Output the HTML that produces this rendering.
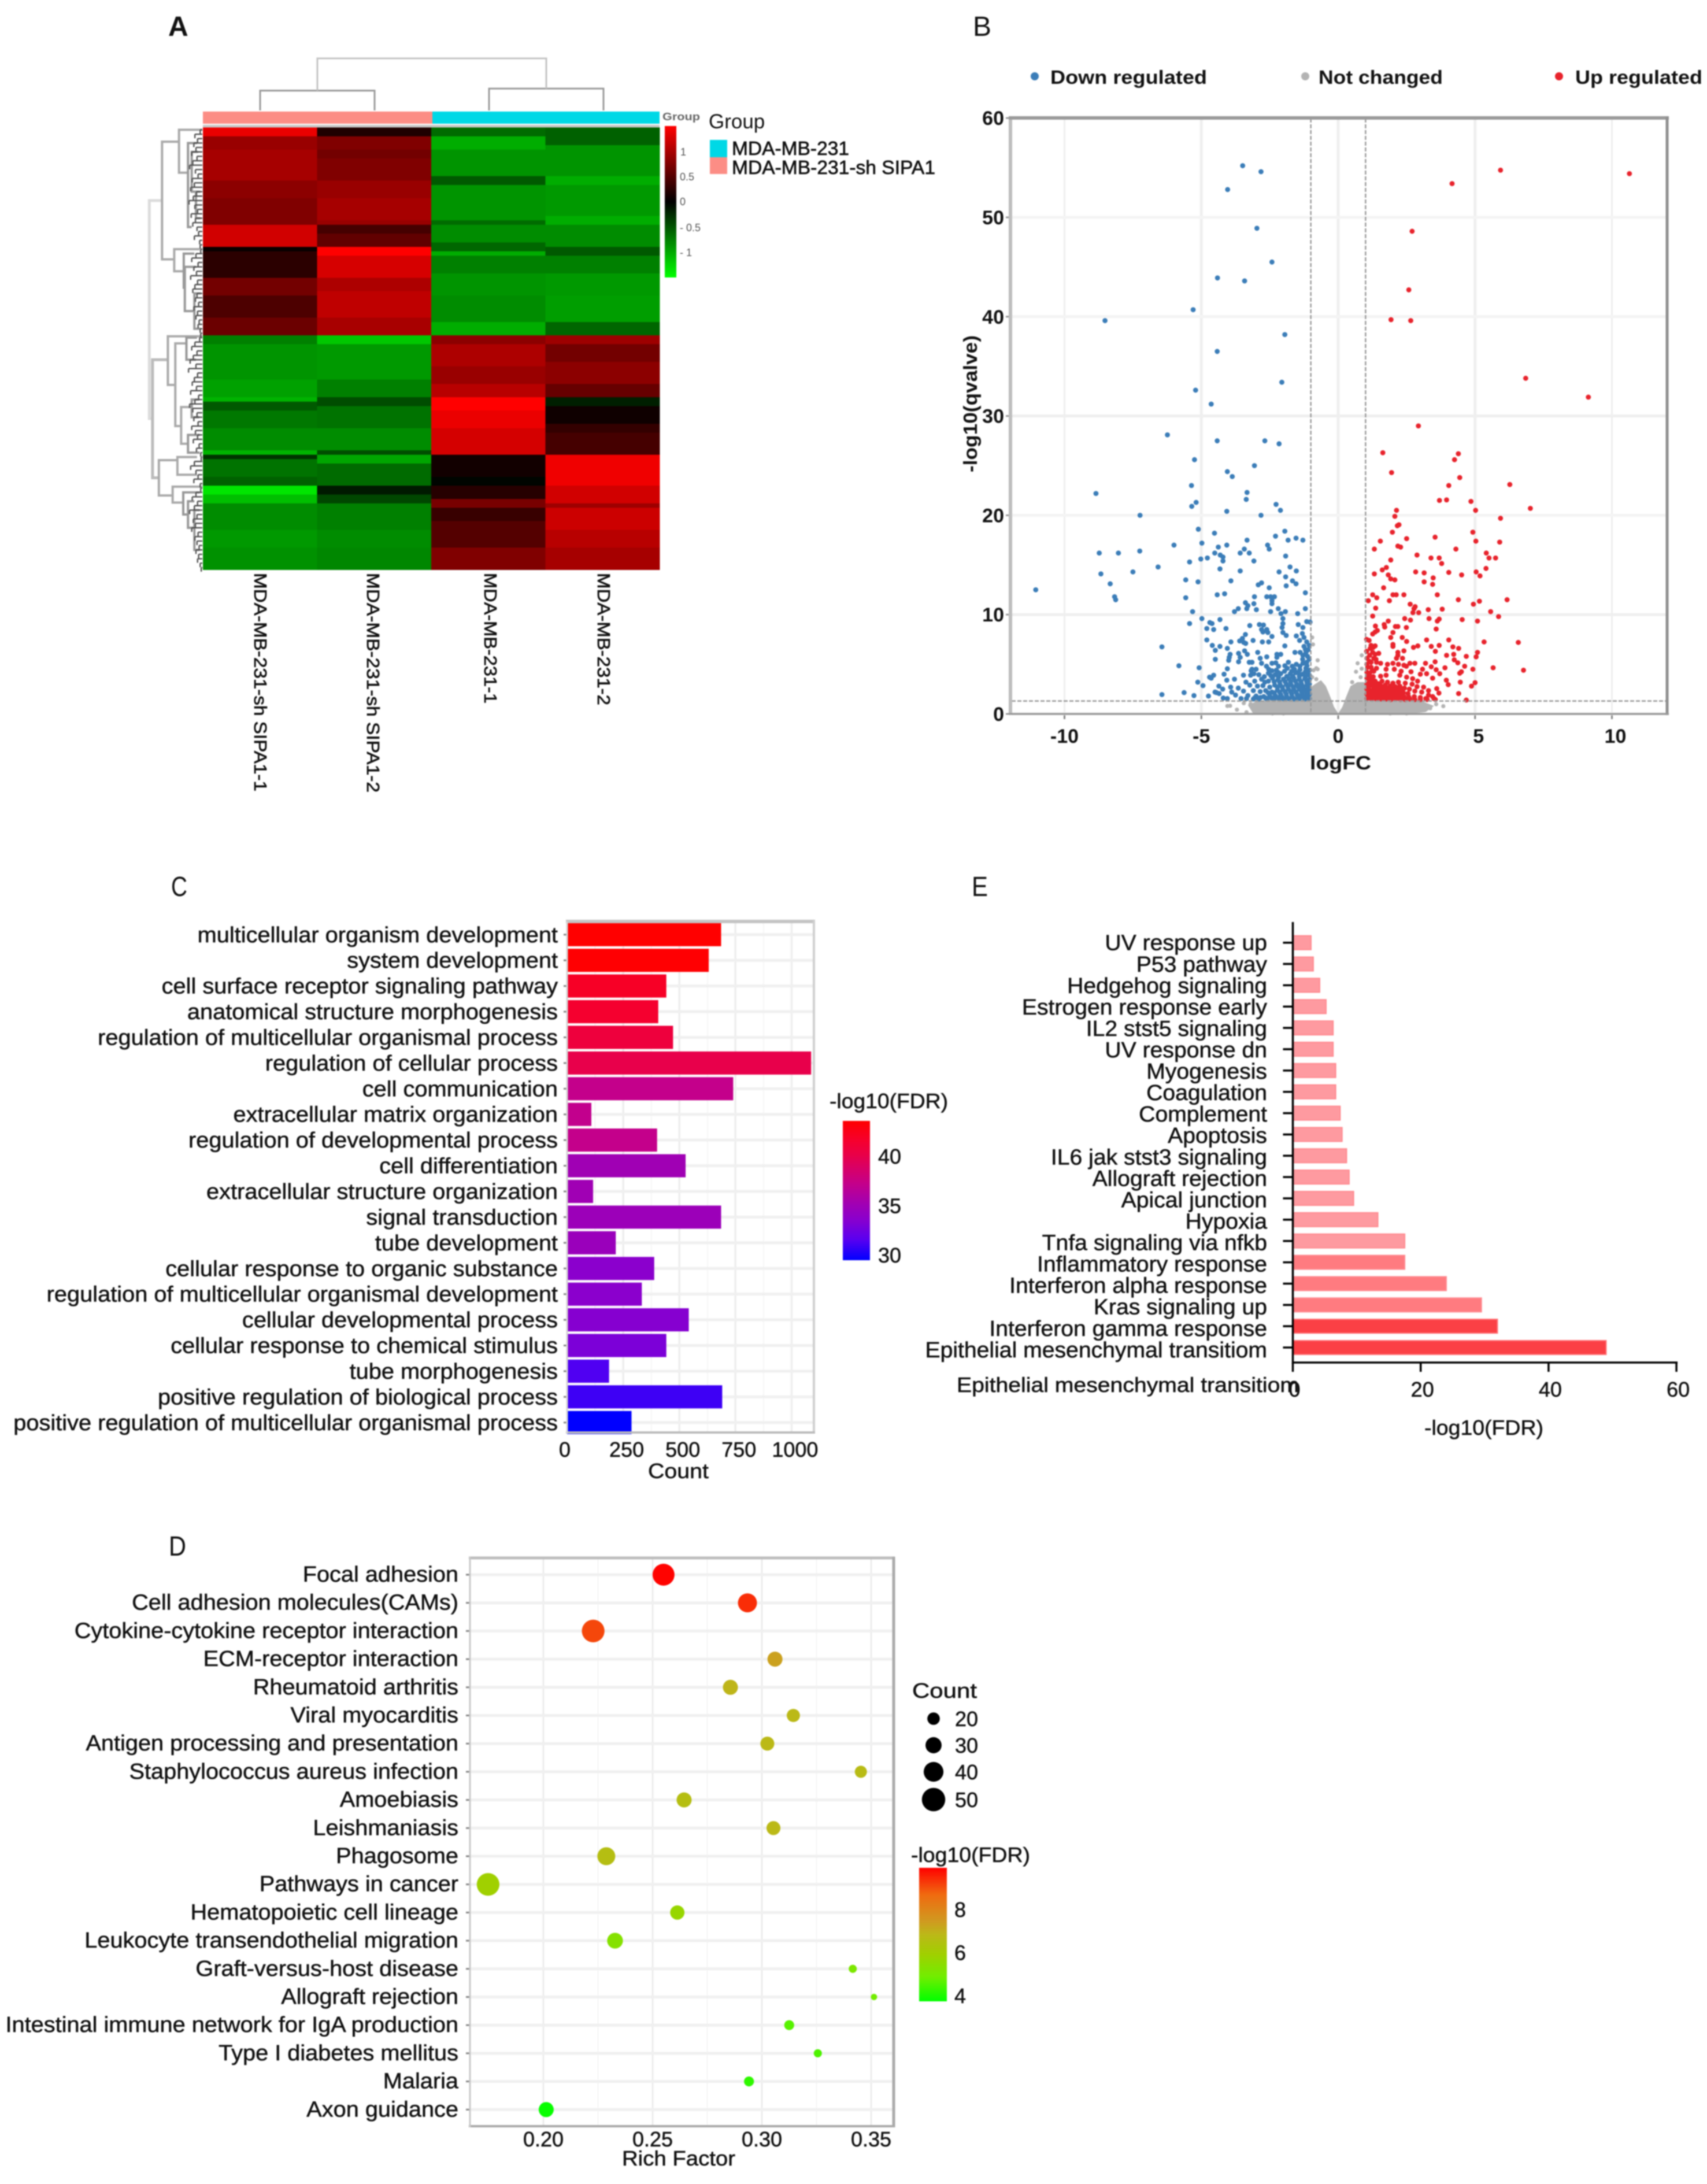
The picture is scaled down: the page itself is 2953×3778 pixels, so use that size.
<!DOCTYPE html>
<html lang="en">
<head>
<meta charset="utf-8">
<title>Composite figure A-E</title>
<style>
html,body{margin:0;padding:0;background:#fff;}
#figure{display:block;filter:blur(1.1px);font-family:"Liberation Sans",sans-serif;}
text{font-family:"Liberation Sans",sans-serif;fill:#111;}
#panelC text,#panelD text,#panelE text{stroke:#111;stroke-width:.55;}
.sample{stroke:#111;stroke-width:.7;}
</style>
</head>
<body>
<svg id="figure" xmlns="http://www.w3.org/2000/svg" width="2953" height="3778" viewBox="0 0 2953 3778">
<rect width="2953" height="3778" fill="#fff"/>
<defs>
<linearGradient id="heatBar" x1="0" y1="0" x2="0" y2="1"><stop offset="0" stop-color="#ff0000"/><stop offset="0.5" stop-color="#000"/><stop offset="1" stop-color="#00ff00"/></linearGradient>
<linearGradient id="goBar" x1="0" y1="1" x2="0" y2="0"></linearGradient>
<linearGradient id="keggBar" x1="0" y1="1" x2="0" y2="0"></linearGradient>
</defs>

<text x="291" y="62" font-size="48" font-weight="bold">A</text>
<text x="1683" y="62" font-size="48">B</text>
<text x="296" y="1550" font-size="48" textLength="28" lengthAdjust="spacingAndGlyphs">C</text>
<text x="292" y="2691" font-size="48" textLength="30" lengthAdjust="spacingAndGlyphs">D</text>
<text x="1681" y="1550" font-size="48" textLength="28" lengthAdjust="spacingAndGlyphs">E</text>

<g id="panelA">
<rect x="351" y="193" width="397" height="21" fill="#fc8d85"/>
<rect x="748" y="193" width="393" height="21" fill="#00d8e6"/>
<rect x="351" y="216" width="790" height="5" fill="#c8c8c8"/>
<text x="1146" y="208" font-size="18" font-weight="bold" fill="#666" style="fill:#666" textLength="65" lengthAdjust="spacingAndGlyphs">Group</text>
<rect x="1150" y="218" width="20" height="262" fill="url(#heatBar)"/>
<text x="1177" y="269" font-size="18" style="fill:#555">1</text>
<text x="1176" y="312" font-size="18" style="fill:#555">0.5</text>
<text x="1176" y="355" font-size="18" style="fill:#555">0</text>
<text x="1176" y="400" font-size="18" style="fill:#555">- 0.5</text>
<text x="1176" y="443" font-size="18" style="fill:#555">- 1</text>
<text x="1226" y="222" font-size="35">Group</text>
<rect x="1228" y="242" width="30" height="30" fill="#00d8e6"/>
<rect x="1228" y="272" width="30" height="29" fill="#fc8d85"/>
<text class="sample" x="1266" y="268" font-size="33" textLength="203" lengthAdjust="spacingAndGlyphs">MDA-MB-231</text>
<text class="sample" x="1266" y="301" font-size="33" textLength="352" lengthAdjust="spacingAndGlyphs">MDA-MB-231-sh SIPA1</text>
<text class="sample" transform="translate(440,991) rotate(90)" font-size="31" textLength="378" lengthAdjust="spacingAndGlyphs">MDA-MB-231-sh SIPA1-1</text>
<text class="sample" transform="translate(635,991) rotate(90)" font-size="31" textLength="380" lengthAdjust="spacingAndGlyphs">MDA-MB-231-sh SIPA1-2</text>
<text class="sample" transform="translate(838,991) rotate(90)" font-size="31" textLength="226" lengthAdjust="spacingAndGlyphs">MDA-MB-231-1</text>
<text class="sample" transform="translate(1034,991) rotate(90)" font-size="31" textLength="229" lengthAdjust="spacingAndGlyphs">MDA-MB-231-2</text>
</g>

<g id="panelB">
<circle cx="1790" cy="132" r="7" fill="#3b7db8"/>
<text x="1817" y="145" font-size="33" font-weight="bold" textLength="271" lengthAdjust="spacingAndGlyphs">Down regulated</text>
<circle cx="2258" cy="132" r="7" fill="#b3b3b3"/>
<text x="2281" y="145" font-size="33" font-weight="bold" textLength="215" lengthAdjust="spacingAndGlyphs">Not changed</text>
<circle cx="2697" cy="132" r="7" fill="#e8232c"/>
<text x="2725" y="145" font-size="33" font-weight="bold" textLength="220" lengthAdjust="spacingAndGlyphs">Up regulated</text>
<text x="2266" y="1331" font-size="33" font-weight="bold" textLength="106" lengthAdjust="spacingAndGlyphs">logFC</text>
<text transform="translate(1690,817) rotate(-90)" font-size="33" font-weight="bold" textLength="237" lengthAdjust="spacingAndGlyphs">-log10(qvalve)</text>
</g>

<g id="panelC">
<text x="1121" y="2557" font-size="36" textLength="105" lengthAdjust="spacingAndGlyphs">Count</text>
<text x="1435" y="1917" font-size="36" textLength="205" lengthAdjust="spacingAndGlyphs">-log10(FDR)</text>
<rect x="1458" y="1939" width="47" height="241" fill="url(#goBar)"/>
</g>

<g id="panelE">
<text x="1655" y="2408" font-size="36" textLength="592" lengthAdjust="spacingAndGlyphs">Epithelial mesenchymal transitiom</text>
<text x="2464" y="2482" font-size="36" textLength="206" lengthAdjust="spacingAndGlyphs">-log10(FDR)</text>
</g>

<g id="panelD">
<text x="1076" y="3746" font-size="36" textLength="196" lengthAdjust="spacingAndGlyphs">Rich Factor</text>
<text x="1578" y="2937" font-size="36" textLength="112" lengthAdjust="spacingAndGlyphs">Count</text>
<text x="1576" y="3221" font-size="36" textLength="206" lengthAdjust="spacingAndGlyphs">-log10(FDR)</text>
<rect x="1590" y="3231" width="48" height="231" fill="url(#keggBar)"/>
</g>
</svg>

<script>
/* ---------- Panel A data ---------- */
const heatSamples = ['sh1','sh2','wt1','wt2'];
const heatSh1 = [.92,.92,.6,.6,.6,.65,.65,.65,.65,.65,.65,.65,.55,.55,.55,.55,.5,.5,.5,.5,.5,.5,.82,.82,.82,.82,.82,.03,.17,.17,.17,.17,.17,.17,.45,.45,.45,.45,.3,.3,.3,.3,.3,.42,.42,.42,.42,-.5,-.5,-.58,-.58,-.58,-.58,-.58,-.58,-.58,-.58,-.63,-.63,-.63,-.63,-.7,-.35,-.35,-.47,-.47,-.47,-.47,-.55,-.55,-.55,-.55,-.55,-.7,-.2,-.45,-.45,-.45,-.45,-.38,-.38,-.9,-.9,-.75,-.75,-.55,-.55,-.55,-.55,-.55,-.55,-.6,-.6,-.6,-.6,-.57,-.57,-.57,-.57,-.57];
const heatSh2 = [.12,.12,.5,.5,.5,.45,.45,.5,.5,.5,.5,.5,.6,.6,.6,.6,.65,.65,.65,.65,.65,.6,.27,.27,.38,.38,.38,1,1,.84,.84,.84,.84,.84,.68,.68,.68,.75,.75,.75,.75,.75,.75,.66,.66,.66,.66,-.78,-.78,-.6,-.6,-.6,-.6,-.6,-.6,-.6,-.6,-.5,-.5,-.5,-.5,-.3,-.3,-.45,-.45,-.45,-.45,-.45,-.55,-.55,-.55,-.55,-.55,-.3,-.65,-.65,-.42,-.42,-.42,-.42,-.42,-.1,-.1,-.28,-.28,-.5,-.5,-.5,-.5,-.5,-.5,-.55,-.55,-.55,-.55,-.53,-.53,-.53,-.53,-.53];
const heatWt1 = [-.42,-.42,-.68,-.68,-.68,-.58,-.58,-.58,-.58,-.58,-.58,-.35,-.35,-.58,-.58,-.58,-.58,-.58,-.58,-.58,-.58,-.42,-.55,-.55,-.55,-.55,-.4,-.4,-.68,-.5,-.5,-.5,-.5,-.58,-.58,-.58,-.58,-.58,-.55,-.55,-.55,-.55,-.55,-.55,-.68,-.68,-.68,.55,.55,.68,.68,.68,.68,.68,.6,.6,.6,.6,.72,.72,.72,1,1,1,.92,.92,.92,.92,.83,.83,.83,.83,.83,.83,.07,.07,.07,.07,.07,-.02,-.02,.15,.15,.15,.47,.47,.22,.22,.22,.33,.33,.33,.33,.33,.33,.5,.5,.5,.5,.5];
const heatWt2 = [-.38,-.38,-.38,-.38,-.58,-.58,-.58,-.58,-.58,-.58,-.58,-.68,-.68,-.6,-.6,-.6,-.6,-.6,-.6,-.6,-.68,-.68,-.55,-.55,-.55,-.55,-.55,-.35,-.35,-.5,-.5,-.5,-.5,-.6,-.6,-.6,-.6,-.6,-.62,-.62,-.62,-.62,-.62,-.62,-.4,-.4,-.4,.62,.62,.45,.45,.45,.45,.55,.55,.55,.55,.55,.4,.4,.4,-.12,-.12,.06,.06,.06,.06,.2,.2,.27,.27,.27,.27,.27,.94,.94,.94,.94,.94,.94,.94,.82,.82,.82,.82,.62,.8,.8,.8,.8,.8,.72,.72,.72,.72,.65,.65,.65,.65,.65];
const columnMerges = [[.38,0,1],[.42,2,3],[1,.5,2.5]];
const rowMerges = [[100,16,65.3,76,94],[76,2.7,29.3,44,53],[44,0,9.7,0,27],[27,3,22,10,20],[53,27,32,5,35],[35,28,35.7,15,33],[33,31,41,12,15],[15,37,45,3,3],[94,52,78.7,65,82],[65,46.7,57.7,0,51],[51,48.3,67,30,40],[30,47,52,10,12],[40,62.7,71,20,27],[27,69,73,5,5],[20,61,65,6,6],[82,74.7,82.7,47,56],[56,80.7,84.3,0,36],[36,82,87,5,27],[27,84,90,15,15],[15,86,95,5,5],[47,74,78,10,10],[20,5,14,8,8],[12,14,20,4,4]];
const rowFringe = [4,14,9,16,12,20,10,18,24,13,8,19,15,22,11,17,25,14,9,21,13,18,10,7,15,5,4,3,12,20,8,16,11,22,9,14,18,10,13,7,16,9,12,6,8,4,3,5,14,20,10,17,23,12,26,9,15,19,11,22,7,14,24,18,10,16,8,20,13,9,17,6,11,3,2,15,22,12,8,16,4,3,12,19,9,15,24,10,17,13,20,8,14,10,6,12,7,9,4,2];

/* ---------- Panel B data ---------- */
const volcanoXTicks = [-10,-5,0,5,10];
const volcanoYTicks = [0,10,20,30,40,50,60];
const notChangedEnvelopeFC = [-3.1,-3.3,-3,-2.2,-1.4,-1.05,-.85,-.63,-.45,-.3,-.15,0,.15,.3,.45,.7,.95,1.2,2.4,3.1,3.5,3.2,2.6];
const notChangedEnvelopeQ = [0,.9,1.25,1.5,1.9,2.6,3,3.4,2.8,1.8,.7,.05,.7,1.8,2.8,3.2,3.2,1.6,1.4,1.25,.8,.2,0];
const notChangedOutliers = [[-.95,7.7],[-.92,7],[-.75,5.4],[-.8,4.6],[-.9,4.4],[-.75,4.5],[-.95,3.7],[-.8,3.5],[-4.05,.8],[-3.95,.82],[-3.7,.43],[-3.35,.17],[-3.45,1.08],[-3.2,1],[.86,5.9],[.71,5.1],[.65,4.25],[.86,4.55],[.51,3.2],[.82,3.7],[3.36,.57],[3.84,.78],[3.58,.98],[-2.4,.05],[-2,.05],[1.9,.05],[2.5,.05]];
const downRegulated = [[-3.49,55.2],[-2.82,54.6],[-4.04,52.8],[-2.97,48.9],[-2.42,45.5],[-4.41,43.9],[-3.42,43.6],[-5.3,40.7],[-8.52,39.6],[-1.95,38.2],[-4.42,36.5],[-2.06,33.4],[-5.21,32.6],[-4.64,31.2],
[-6.24,28.1],[-4.42,27.5],[-2.68,27.5],[-2.16,27.2],[-5.25,25.6],[-3.06,25],[-4.05,24.4],[-3.87,23.9],[-5.36,23],[-3.33,22.3],[-3.36,21.6],[-8.85,22.2],[-5.19,21.3],[-5.35,20.9],[-2.27,21.1],[-2.11,20.5],[-4.07,20.4],[-2.82,20],[-7.24,20],[-5.11,18.6],[-4.52,18.2],[-1.95,18.4],[-2.29,17.9],[-3.33,17.5],[-1.83,17.5],[-1.54,17.7],[-1.29,17.5],[-4.98,17.2],[-6,17],[-4.38,16.8],[-4.07,17],[-2.58,17],[-2.52,16.6],[-3.43,16.6],[-3.58,16.2],[-3.25,16.2],[-4.51,16.2],[-4.31,16],[-8.73,16.2],[-8.03,16.2],[-7.25,16.4],[-4.21,15.8],[-4.78,15.7],[-5.02,15.6],[-4.21,15.4],[-5.43,15.3],[-3.08,15.4],[-1.92,15.9],[-1.76,14.8],[-1.53,14.4],[-6.58,14.8],[-4.32,14.6],[-3.58,14.4],[-7.5,14.3],[-2.16,14.3],[-8.67,14.1],[-1.92,13.8],[-1.67,13.4],[-1.54,13.1],[-1.9,12.9],[-5.57,13.5],[-5.12,13.3],[-3.92,13.4],[-8.33,13.1],[-2.8,13.2],[-2.92,13],[-11.05,12.5],[-2.52,12.7],[-1.2,12.2],[-4.15,12.1],[-4.42,12],[-5.57,11.7],[-8.17,11.8],[-8.13,11.5],[-3.06,11.8],[-2.61,11.8],[-2.47,11.8],[-2.33,11.8],[-2.42,11.4],[-2.42,11.1],[-3.39,11.2],[-3.08,11.1],[-3.3,10.9],[-3.34,10.6],[-3.65,10.6],[-3.79,10.3],[-2.99,10.5],[-2.19,10.6],[-2.47,10.3],[-1.93,10.3],[-2.09,10.1],[-1.2,10.6],[-1.48,10.1],[-5.32,10.3],[-4.98,9.6],[-4.32,9.5],[-5.43,9.1],[-4.69,9.2],[-4.61,9.1],[-2.02,9.6],[-1.15,9.3],[-1.03,9.25],[-3.23,8.9],[-2.88,9],[-2.73,8.95],[-2.02,9.1],[-1.46,9],[-1.29,8.7],[-4.8,8.6],[-4.55,8.5],[-4.1,8.6],[-2.8,8.5],[-2.61,8.5],[-2.05,8.7],[-2.57,8.2],[-2.75,8.25],[-1.31,8.1],[-2.02,8.2],[-3.39,8],[-1.9,7.9],[-2.42,7.8],[-1.53,7.85],[-1.25,7.7],[-3.5,7.6],[-4.8,7.45],[-3.11,7.4],[-3.6,7.35],[-3.45,7.2],[-3.38,7.1],[-3.92,7.25],[-2.77,7.25],[-2.54,7.25],[-1.41,7.4],[-1.15,7.25],[-4.6,6.9],[-4.32,6.8],[-6.44,6.75],[-4.05,6.6],[-1.95,6.85],[-1.06,6.9],[-4.49,6.4],[-3.42,6.35],[-2.94,6.2],[-3.64,6.1],[-3.32,6],[-3.95,6],[-1.58,6.2],[-1.39,6.2],[-2.24,6],[-2.1,6],[-1.29,5.9],[-3.98,5.7],[-3.58,5.7],[-2.61,5.75],[-2.85,5.6],[-2.24,5.7],[-4.49,5.5],[-4,5.4],[-3.64,5.25],[-1.3,5.5],[-1.06,5.5],[-3.25,5.2],[-3.15,5.2],[-2.8,5.1],[-2.42,5.1],[-2.28,5.15],[-1.82,5.2],[-1.53,5],[-1.29,5.1],[-1.15,5.2],[-5.82,4.85],[-5.08,4.65],[-4.05,4.55],
[-3.15,4.5],[-3,4.5],[-2.54,4.5],[-2.26,4.4],[-1.86,4.6],[-1.6,4.5],[-1.4,4.45],[-1.18,4.6],[-1.05,4.4],[-3.18,4.35],[-3.08,4.05],[-4.55,3.9],[-4.17,4],[-3.46,3.9],[-4.64,3.6],[-4.7,3.7],[-4.07,3.4],[-3.79,3.5],[-3.2,3.9],[-2.9,3.95],[-2.55,4.1],[-2.3,3.95],[-2.1,4.05],[-1.75,4.05],[-1.55,4.15],[-1.3,4],[-1.1,3.95],[-5.13,3.2],[-3.37,3.2],[-3.23,2.9],[-3.05,3.3],[-2.8,3.5],[-2.55,3.3],[-2.4,3.6],[-2.2,3.45],[-2,3.5],[-1.8,3.55],[-1.62,3.6],[-1.42,3.5],[-1.22,3.55],[-1.05,3.45],[-4.94,2.85],[-4.36,2.8],[-3.93,2.7],[-3.65,2.6],[-2.95,2.8],[-2.75,2.85],[-2.5,2.7],[-2.32,2.9],[-2.12,2.95],[-1.9,3],[-1.72,2.95],[-1.52,3],[-1.34,3],[-1.14,2.95],[-4.22,2.5],[-3.46,2.3],[-3.1,2.35],[-2.85,2.25],[-2.65,2.35],[-2.42,2.2],[-2.22,2.4],[-2.02,2.45],[-1.82,2.5],[-1.62,2.45],[-1.42,2.5],[-1.24,2.45],[-1.06,2.5],[-5.63,2.15],[-4.45,2.15],[-3.89,2.2],[-6.44,1.95],[-5.27,1.85],[-4.74,1.8],[-4.5,2.2],[-4.35,2.05],[-3.75,1.9],[-3.3,1.85],[-3,1.8],[-2.72,1.75],[-2.5,1.8],[-2.3,1.85],[-2.1,1.95],[-1.9,2],[-1.7,2],[-1.5,1.95],[-1.32,2],[-1.14,1.95],[-4.2,1.6],[-4.05,1.55],[-3.55,1.55],[-3.35,1.55],[-3.1,1.5],[-2.9,1.5],[-2.6,1.5],[-2.35,1.5],[-2.15,1.5],[-1.98,1.5],[-1.8,1.55],[-1.6,1.5],[-1.42,1.55],[-1.22,1.5],[-1.05,1.55],[-1.05,3],[-1.05,3.9],[-1.05,2],[-1.2,6.5],[-1.25,6.8],
[-1.12,1.72],[-1.28,1.74],[-1.46,1.76],[-1.68,1.72],[-1.88,1.74],[-2.06,1.7],[-2.24,1.68],[-2.44,1.62],[-2.66,1.62],[-2.84,1.66],[-3.05,1.62],[-1.16,2.22],[-1.34,2.24],[-1.54,2.2],[-1.74,2.26],[-1.94,2.24],[-2.14,2.18],[-2.34,2.12],[-2.56,2.14],[-1.1,2.72],[-1.28,2.74],[-1.46,2.72],[-1.64,2.7],[-1.84,2.76],[-2.04,2.7],[-2.22,2.7],[-1.15,3.25],[-1.36,3.26],[-1.56,3.3],[-1.74,3.25],[-1.94,3.25],[-2.14,3.2],[-2.34,3.25],[-2.68,3.2],[-1.2,3.75],[-1.42,3.8],[-1.66,3.8],[-1.88,3.78],[-2.18,3.7],[-2.46,3.85],[-2.7,3.75],[-1.2,4.25],[-1.46,4.2],[-1.7,4.3],[-1.96,4.3],[-2.2,4.2],[-2.42,4.35],[-1.14,4.85],[-1.4,4.8],[-1.68,4.8],[-1.95,4.85],[-2.18,4.8],[-2.62,4.8],[-1.12,5.8],[-1.18,6.15],[-1.1,6.45]];
const upRegulated = [[4.16,53.4],[5.93,54.75],[10.64,54.4],[2.7,48.6],[2.58,42.7],[1.93,39.7],[2.65,39.6],[6.85,33.8],[9.14,31.9],[2.93,29],
[1.63,26.3],[4.39,26.2],[4.25,25.6],[1.95,24.3],[4.44,23.8],[4.04,23],[6.27,23.1],[3.7,21.5],[3.96,21.55],[4.85,21.4],[7.02,20.7],[5.02,20.5],[2.13,20.5],[2.07,19.9],[5.93,19.7],[2.22,19.05],[2.16,18.95],[1.98,18.3],[4.92,18.3],[2.5,17.65],[3.54,17.8],[5.03,17.4],[5.9,17.3],[1.54,17.4],[1.32,16.6],[2.18,16.9],[2.28,16.8],[4.3,16.6],[5.41,16.2],[2.88,16],[3.39,15.7],[3.69,15.7],[5.51,15.7],[5.75,15.7],[1.92,15.5],[3.78,15.15],[5.4,14.65],[1.76,14.75],[1.61,14.5],[2.83,14.3],[3.14,14.2],[4.04,14.25],[5.04,14.3],[1.32,14.1],[1.83,14],[4.51,14],[5.18,13.9],[1.92,13.6],[2.07,13.5],[3.47,13.7],[3.14,13.3],[3.45,13.05],[1.66,12.7],[1.26,12],[2,12],[2.12,12],[2.4,12],[3.62,12],[1.41,11.7],[4.39,11.5],[6.17,11.5],[1.87,11.4],[1.1,11.4],[5.16,11.35],[4.94,11.05],[2.63,11.05],[2.81,10.8],[2.77,10.6],[1.37,10.65],[3.29,10.5],[3.8,10.55],[5.57,10.3],[2.73,10.2],[2.94,10.2],[5.86,9.8],[1.26,9.85],[2.43,9.6],[2.64,9.45],[3.32,9.6],[3.69,9.55],[3.62,9.35],[4.53,9.5],[5.09,9.35],[1.83,9.35],[1.68,9],[1.36,8.85],[1.7,8.75],[2.09,8.8],[2.18,8.8],[2.49,8.7],[3.58,8.55],[1.43,8.4],[1.35,8.25],[1.26,8.05],[2,8.2],[1.92,7.7],[2.34,7.7],[1.04,7.5],[1.13,7.4],[2.5,7.3],[3.23,7.45],[4.04,7.45],[5.33,7.25],[6.58,7.2],[2,7],[2,6.8],[1.35,6.85],[2.75,6.7],[2.91,6.85],[3.4,6.8],[3.69,6.9],[4.19,6.75],[4.4,6.6],[1.17,6.6],[1.04,6.3],[3.55,6.3],[5.09,6.2],[2.4,6.35],[2.18,6.2],[1.48,6.1],[1.26,6.2],[1.35,6],[2.18,5.9],[2.35,5.6],[2.13,5.6],[3.96,5.9],[4.22,6],[4.68,5.8],[5.04,5.75],[4.24,5.45],[4.37,5.15],[3.54,5.25],[3.19,5.1],[2.8,5.1],[2.62,5.1],[2.49,4.8],[5.66,4.65],[6.77,4.4],[4.92,4.5],[4.62,4.8],[4.5,4.25],[4.44,4.1],[3.9,4.65],[3.4,4.75],[3.58,4.45],[3.71,4.05],[3.23,4.05],[3.08,4.5],[3,4],[2.66,4.25],[3.45,3.6],[3.95,3.4],[4.02,2.95],[4.46,3.2],[5,3.15],[4.87,2.8],[4.4,2.05],[4.68,1.4],
[1.05,5.6],[1.15,5.9],[1.05,5],[1.2,5.2],[1.4,5.2],[1.55,5.1],[1.2,4.7],[1.4,4.6],[1.8,5],[2,5.1],[2.2,5],[2.4,4.9],[1.75,4.5],[2.05,4.5],[2.3,4.3],[1.05,4.2],[1.15,4.1],[1.3,4.3],[1.55,3.8],[1.75,3.9],[2.25,3.9],[2.5,3.7],[2.72,3.55],[2.9,3.3],[1.05,3.6],[1.2,3.5],[1.35,3.3],[1.6,3.3],[1.8,3.2],[2,3.1],[2.2,3.2],[2.45,3.1],[2.7,3],[2.88,2.75],[3.12,2.7],[3.3,2.35],[3.6,2.55],[3.68,2.1],[1.05,3],[1.2,2.9],[1.38,2.8],[1.55,2.85],[1.72,2.9],[1.9,2.8],[2.08,2.75],[2.25,2.8],[2.42,2.6],[2.6,2.5],[1.05,2.5],[1.2,2.35],[1.35,2.4],[1.5,2.35],[1.68,2.4],[1.85,2.3],[2.02,2.35],[2.2,2.3],[2.38,2.15],[2.55,2.05],[2.8,2.3],[3.05,2.2],[3.3,1.9],[3.45,1.75],[1.05,2],[1.2,1.95],[1.35,1.9],[1.52,1.95],[1.7,1.9],[1.88,1.85],[2.05,1.9],[2.22,1.85],[2.4,1.75],[2.58,1.7],[2.78,1.75],[3,1.65],[3.2,1.55],[3.5,1.55],[1.05,1.55],[1.22,1.5],[1.4,1.5],[1.58,1.5],[1.75,1.5],[1.92,1.45],[2.1,1.5],[2.28,1.45],[2.45,1.45],[2.62,1.5],[2.8,1.45],[3,1.45],[3.25,1.45],[3.55,1.45],
[1.12,1.75],[1.3,1.72],[1.48,1.72],[1.66,1.7],[1.84,1.68],[2,1.66],[2.18,1.68],[2.36,1.6],[1.12,2.25],[1.28,2.15],[1.45,2.15],[1.62,2.15],[1.78,2.1],[1.95,2.1],[2.12,2.1],[2.3,2.05],[1.12,2.75],[1.3,2.65],[1.46,2.6],[1.62,2.62],[1.8,2.58],[1.98,2.55],[2.15,2.55],[2.32,2.55],[1.14,3.25],[1.28,3.15],[1.46,3.05],[1.12,3.85],[1.28,3.75],[1.08,4.7],[1.24,4.4],[1.14,5.3],[1.3,5.6],[1.38,5.5],[1.28,6.7],[1.2,6.9]];

/* ---------- Panel C data ---------- */
const goTerms = ['multicellular organism development','system development','cell surface receptor signaling pathway','anatomical structure morphogenesis','regulation of multicellular organismal process','regulation of cellular process','cell communication','extracellular matrix organization','regulation of developmental process','cell differentiation','extracellular structure organization','signal transduction','tube development','cellular response to organic substance','regulation of multicellular organismal development','cellular developmental process','cellular response to chemical stimulus','tube morphogenesis','positive regulation of biological process','positive regulation of multicellular organismal process'];
const goCounts = [686,631,442,406,472,1087,740,108,401,528,116,686,217,388,333,542,442,187,691,287];
const goFdr = [43.5,43.4,41.9,41.5,40.8,40.1,37.4,37.3,37.4,35.4,35.4,35.1,35,34,34,33.8,33.4,31.8,31.4,30];
const goXTicks = [0,250,500,750,1000];
const goFdrTicks = [30,35,40];

/* ---------- Panel E data ---------- */
const hallmarkTerms = ['UV response up','P53 pathway','Hedgehog signaling','Estrogen response early','IL2 stst5 signaling','UV response dn','Myogenesis','Coagulation','Complement','Apoptosis','IL6 jak stst3 signaling','Allograft rejection','Apical junction','Hypoxia','Tnfa signaling via nfkb','Inflammatory response','Interferon alpha response','Kras signaling up','Interferon gamma response','Epithelial mesenchymal transitiom'];
const hallmarkFdr = [2.85,3.2,4.2,5.2,6.3,6.3,6.7,6.7,7.4,7.7,8.4,8.8,9.5,13.3,17.5,17.5,24,29.5,32,49];
const hallmarkXTicks = [0,20,40,60];

/* ---------- Panel D data ---------- */
const keggTerms = ['Focal adhesion','Cell adhesion molecules(CAMs)','Cytokine-cytokine receptor interaction','ECM-receptor interaction','Rheumatoid arthritis','Viral myocarditis','Antigen processing and presentation','Staphylococcus aureus infection','Amoebiasis','Leishmaniasis','Phagosome','Pathways in cancer','Hematopoietic cell lineage','Leukocyte transendothelial migration','Graft-versus-host disease','Allograft rejection','Intestinal immune network for IgA production','Type I diabetes mellitus','Malaria','Axon guidance'];
const keggRichFactor = [.255,.2934,.2228,.306,.2856,.3144,.3025,.3453,.2644,.3053,.2288,.1747,.2613,.2328,.3416,.3513,.3125,.3256,.2941,.2013];
const keggCounts = [46,38,48,27,27,22,24,19,27,24,35,48,25,29,8,3,13,8,13,27];
const keggFdr = [9.9,9.4,9.1,7.3,6.9,6.8,6.8,6.7,6.6,6.8,6.6,5.9,5.7,5.3,5.1,4.9,4.6,4.5,4.2,3.8];
const keggXTicks = ['0.20','0.25','0.30','0.35'];
const keggCountLegend = [20,30,40,50];
const keggFdrTicks = [4,6,8];

/* ---------- helpers ---------- */
const NS = 'http://www.w3.org/2000/svg';
function mk(tag, attrs, parent, txt) {
  const e = document.createElementNS(NS, tag);
  for (const k in attrs) e.setAttribute(k, attrs[k]);
  if (txt !== undefined) e.textContent = txt;
  parent.appendChild(e);
  return e;
}
function hexRgb(h){return [parseInt(h.slice(1,3),16),parseInt(h.slice(3,5),16),parseInt(h.slice(5,7),16)];}
function ramp(stops,t){
  t=Math.max(0,Math.min(1,t));
  for(let i=1;i<stops.length;i++){
    if(t<=stops[i][0]){
      const a=stops[i-1],b=stops[i],f=(t-a[0])/(b[0]-a[0]);
      const ca=hexRgb(a[1]),cb=hexRgb(b[1]);
      return 'rgb('+ca.map((c,j)=>Math.round(c+(cb[j]-c)*f)).join(',')+')';
    }
  }
  return stops[stops.length-1][1];
}
const goRamp=[[0,'#0000ff'],[.15,'#5a00f0'],[.3,'#8c00cc'],[.4,'#a000b4'],[.55,'#c4008a'],[.75,'#e8004a'],[.85,'#f50030'],[1,'#ff0000']];
const keggRamp=[[0,'#00ff00'],[.18,'#70ee00'],[.35,'#a0d000'],[.5,'#bcb818'],[.6,'#d09a20'],[.8,'#f06a10'],[1,'#ff0000']];
function fillGradient(id,stops){
  const g=document.getElementById(id);
  stops.forEach(s=>mk('stop',{offset:s[0],'stop-color':s[1]},g));
}
fillGradient('goBar',goRamp);
fillGradient('keggBar',keggRamp);

/* ---------- Panel A ---------- */
(function(){
  const root=document.getElementById('panelA');
  const heatCols=[heatSh1,heatSh2,heatWt1,heatWt2];
  const colX=c=>351+c*197.5;
  const rowY=r=>220.5+r*7.65;
  const heatColor=v=>v>=0?'rgb('+Math.round(255*v)+',0,0)':'rgb(0,'+Math.round(-255*v)+',0)';
  heatCols.forEach((vals,c)=>{
    vals.forEach((v,r)=>{
      const cell=mk('rect',{x:colX(c),y:rowY(r),width:198,height:8.1,fill:heatColor(v)},root);
      
      
    });
  });
  const colC=c=>450+c*198;
  const colH=h=>191-h*90;
  const topH=[.38,.42];
  columnMerges.forEach((m,i)=>{
    const y=colH(m[0]);
    const childA=i===2?colH(topH[0]):191, childB=i===2?colH(topH[1]):191;
    const p=mk('path',{d:'M'+colC(m[1])+' '+childA+'V'+y+'H'+colC(m[2])+'V'+childB,fill:'none',stroke:i===2?'#c4c4c4':'#999','stroke-width':3},root);
    
    
  });
  const dX=d=>350-d*0.9167;
  const rY=r=>rowY(r)+4;
  rowMerges.forEach(m=>{
    const col=m[0]>=100?'#dcdcdc':(m[0]>=90?'#bbb':(m[0]>=40?'#aaa':'#999'));
    const p=mk('path',{d:'M'+dX(m[3])+' '+rY(m[1])+'H'+dX(m[0])+'V'+rY(m[2])+'H'+dX(m[4]),fill:'none',stroke:col,'stroke-width':m[0]>=90?5:4},root);
    
    
  });
  rowFringe.forEach((d,r)=>{
    const p=mk('path',{d:'M'+dX(d)+' '+rY(r)+'H'+dX(0)+'M'+dX(d)+' '+rY(r)+'v7',fill:'none',stroke:'#555','stroke-width':2.4},root);
    
    
  });
})();

/* ---------- Panel B ---------- */
(function(){
  const root=document.getElementById('panelB');
  const x=v=>2315+47.35*v;
  const y=v=>1235-17.18*v;
  volcanoXTicks.forEach(t=>{
    const l=mk('line',{x1:x(t),x2:x(t),y1:205,y2:1235,stroke:'#efefef','stroke-width':t===-10||t===10?3:5},root);
    
    
    const tk=mk('line',{x1:x(t),x2:x(t),y1:1235,y2:1244,stroke:'#888','stroke-width':3},root);
    
    
    const lb=mk('text',{x:x(t)+(t>0?6:0),y:1285,'font-size':34,'font-weight':'bold','text-anchor':'middle'},root,String(t));
    
    
  });
  volcanoYTicks.forEach(t=>{
    const l=mk('line',{x1:1750,x2:2882,y1:y(t),y2:y(t),stroke:t===10||t===30?'#efefef':'#f4f4f4','stroke-width':5},root);
    
    
    const tk=mk('line',{x1:1740,x2:1748,y1:y(t),y2:y(t),stroke:'#999','stroke-width':3},root);
    
    
    const lb=mk('text',{x:1737,y:y(t)+12,'font-size':34,'font-weight':'bold','text-anchor':'end'},root,String(t));
    
    
  });
  let d='';
  notChangedEnvelopeFC.forEach((fc,i)=>{d+=(i?'L':'M')+x(fc)+' '+y(notChangedEnvelopeQ[i]);});
  const env=mk('path',{d:d+'Z',fill:'#b3b3b3'},root);
  
  
  notChangedOutliers.forEach(p=>{
    const c=mk('circle',{cx:x(p[0]),cy:y(p[1]),r:3.6,fill:'#b3b3b3'},root);
    
    
  });
  downRegulated.forEach(p=>{
    const c=mk('circle',{cx:x(p[0]),cy:y(p[1]),r:4.4,fill:'#3b7db8'},root);
    
    
  });
  upRegulated.forEach(p=>{
    const c=mk('circle',{cx:x(p[0]),cy:y(p[1]),r:4.4,fill:'#e8232c'},root);
    
    
  });
  const thresholds=[[x(-1),205,x(-1),1235],[x(1),205,x(1),1235],[1750,y(1.3),2882,y(1.3)]];
  thresholds.forEach(t=>{
    const l=mk('line',{x1:t[0],y1:t[1],x2:t[2],y2:t[3],stroke:'#9a9a9a','stroke-width':2.5,'stroke-dasharray':'7 3'},root);
    
    
  });
  const frame=[[1748,202,1748,1235,'#bdbdbd',6],[1745,204,2887,204,'#9a9a9a',6],[2884,202,2884,1237,'#8f8f8f',5],[1745,1235,2887,1235,'#999',3.5]];
  frame.forEach(f=>{
    const l=mk('line',{x1:f[0],y1:f[1],x2:f[2],y2:f[3],stroke:f[4],'stroke-width':f[5]},root);
    
    
  });
})();

/* ---------- Panel C ---------- */
(function(){
  const root=document.getElementById('panelC');
  const x=v=>981+0.3884*v;
  const y=i=>1616.8+44.42*i;
  goXTicks.forEach((t,i)=>{
    [t,t+125].forEach((g,j)=>{
      if(x(g)>1405) return;
      const l=mk('line',{x1:x(g),x2:x(g),y1:1594,y2:2478,stroke:j?'#f6f6f6':'#eeeeee','stroke-width':j?2:3.5},root);
      
      
    });
    const lb=mk('text',{x:i===0?977:x(t)+6,y:2520,'font-size':36,'text-anchor':'middle'},root,String(t));
    
    
  });
  goTerms.forEach((term,i)=>{
    const gl=mk('line',{x1:981,x2:1408,y1:y(i),y2:y(i),stroke:'#f0f0f0','stroke-width':5},root);
    
    
  });
  goTerms.forEach((term,i)=>{
    const t=(goFdr[i]-30)/13.5;
    const b=mk('rect',{x:x(0),y:y(i)-20,width:x(goCounts[i])-x(0),height:40,fill:ramp(goRamp,t)},root);
    
    
    const tk=mk('line',{x1:975,x2:981,y1:y(i),y2:y(i),stroke:'#888','stroke-width':3},root);
    
    
    const lb=mk('text',{transform:'translate(965,'+(y(i)+13)+') scale(1.047,1)','font-size':38,'text-anchor':'end'},root,term);
    
    
  });
  const frame=[[979,1594,1410,1594,'#c4c4c4',6],[1408,1592,1408,2480,'#cfcfcf',4],[979,2478,1410,2478,'#bbb',4],[981,1594,981,2480,'#d5d5d5',3]];
  frame.forEach(f=>{
    const l=mk('line',{x1:f[0],y1:f[1],x2:f[2],y2:f[3],stroke:f[4],'stroke-width':f[5]},root);
    
    
  });
  goFdrTicks.forEach(t=>{
    const cy=2171-17.1*(t-30);
    const lb=mk('text',{x:1519,y:cy+13,'font-size':36},root,String(t));
    
    
  });
})();

/* ---------- Panel E ---------- */
(function(){
  const root=document.getElementById('panelE');
  const x=v=>2236.5+11.06*v;
  const y=i=>1630.7+36.86*i;
  hallmarkTerms.forEach((term,i)=>{
    const fill=i>=18?'#fb4045':(i>=15?'#ff7b80':'#fe9aa0');
    const b=mk('rect',{x:x(0),y:y(i)-12,width:x(hallmarkFdr[i])-x(0),height:24,fill:fill,stroke:i>=18?'#ff7478':'#ff8a90','stroke-width':2},root);
    
    
    const tk=mk('line',{x1:2219.5,x2:2236.5,y1:y(i),y2:y(i),stroke:'#000','stroke-width':3.5},root);
    
    
    const lb=mk('text',{transform:'translate(2192,'+(y(i)+13+i*0.2)+') scale(1.03,1)','font-size':38,'text-anchor':'end'},root,term);
    
    
  });
  hallmarkXTicks.forEach(t=>{
    const tk=mk('line',{x1:x(t),x2:x(t),y1:2357,y2:2373,stroke:'#000','stroke-width':3.5},root);
    
    
    const lb=mk('text',{x:x(t)+3,y:2416,'font-size':36,'text-anchor':'middle'},root,String(t));
    
    
  });
  const ya=mk('line',{x1:x(0),x2:x(0),y1:1595,y2:2359,stroke:'#000','stroke-width':3.5},root);
  
  
  const xa=mk('line',{x1:x(0),x2:x(60)+2,y1:2357,y2:2357,stroke:'#000','stroke-width':3.5},root);
  
  
})();

/* ---------- Panel D ---------- */
(function(){
  const root=document.getElementById('panelD');
  const x=v=>940+3780*(v-0.2);
  const y=i=>2724+48.7*i;
  const d=c=>9+0.63*c;
  keggXTicks.forEach(t=>{
    const v=parseFloat(t);
    [v,v+0.025].forEach((g,j)=>{
      if(x(g)>1543) return;
      const l=mk('line',{x1:x(g),x2:x(g),y1:2695,y2:3678,stroke:j?'#f6f6f6':'#ececec','stroke-width':j?2:3},root);
      
      
    });
    const lb=mk('text',{x:x(v),y:3713,'font-size':36,'text-anchor':'middle'},root,t);
    
    
  });
  keggTerms.forEach((term,i)=>{
    const gl=mk('line',{x1:813,x2:1546,y1:y(i),y2:y(i),stroke:'#f0f0f0','stroke-width':5},root);
    
    
    const tk=mk('line',{x1:806,x2:813,y1:y(i),y2:y(i),stroke:'#888','stroke-width':3},root);
    
    
    const lb=mk('text',{transform:'translate(793,'+(y(i)+12)+') scale(1.045,1)','font-size':38,'text-anchor':'end'},root,term);
    
    
  });
  keggTerms.forEach((term,i)=>{
    const t=(keggFdr[i]-3.73)/6.2;
    const c=mk('circle',{cx:x(keggRichFactor[i]),cy:y(i),r:d(keggCounts[i])/2,fill:ramp(keggRamp,t)},root);
    
    
  });
  const frame=[[811,2695,1548,2695,'#bdbdbd',5],[1546,2693,1546,3680,'#ababab',5],[811,3678,1548,3678,'#aaa',4],[813,2693,813,3680,'#c8c8c8',3]];
  frame.forEach(f=>{
    const l=mk('line',{x1:f[0],y1:f[1],x2:f[2],y2:f[3],stroke:f[4],'stroke-width':f[5]},root);
    
    
  });
  const legendY=[2973,3019,3065,3113];
  keggCountLegend.forEach((c,i)=>{
    const dot=mk('circle',{cx:1615,cy:legendY[i],r:d(c)/2,fill:'#000'},root);
    
    
    const lb=mk('text',{x:1652,y:legendY[i]+13,'font-size':36},root,String(c));
    
    
  });
  keggFdrTicks.forEach(t=>{
    const cy=3452-37.25*(t-4);
    const lb=mk('text',{x:1651,y:cy+13,'font-size':36},root,String(t));
    
    
  });
})();
</script>
</body>
</html>
